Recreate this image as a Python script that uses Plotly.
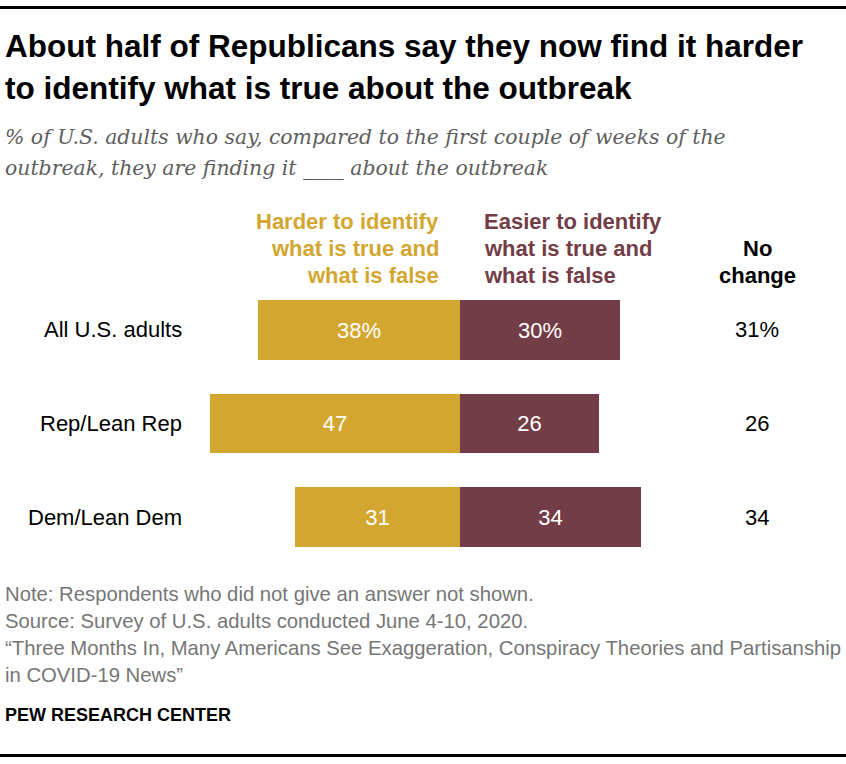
import plotly.graph_objects as go

# ---- data ----
categories = ["All U.S. adults", "Rep/Lean Rep", "Dem/Lean Dem"]
harder = [38, 47, 31]
easier = [30, 26, 34]
no_change = [31, 26, 34]
harder_labels = ["38%", "47", "31"]
easier_labels = ["30%", "26", "34"]
no_change_labels = ["31%", "26", "34"]

title_lines = ["About half of Republicans say they now find it harder",
               "to identify what is true about the outbreak"]
subtitle_lines = ["% of U.S. adults who say, compared to the first couple of weeks of the",
                  "outbreak, they are finding it ____ about the outbreak"]
harder_head = ["Harder to identify", "what is true and", "what is false"]
easier_head = ["Easier to identify", "what is true and", "what is false"]
nochange_head = ["No", "change"]
footer_lines = ["Note: Respondents who did not give an answer not shown.",
                "Source: Survey of U.S. adults conducted June 4-10, 2020.",
                "\u201cThree Months In, Many Americans See Exaggeration, Conspiracy Theories and Partisanship",
                "in COVID-19 News\u201d"]
brand = "PEW RESEARCH CENTER"

GOLD = "#D3A630"
MAROON = "#733D47"

W, H = 846, 764
L, R, T, B = 194, 66, 283, 200
PW, PH = W - L - R, H - T - B


def px(x):
    return (x - L) / PW


def py(y):
    return (H - B - y) / PH


SANS = "Liberation Sans, Arial, sans-serif"
SERIF = "DejaVu Serif, Georgia, serif"

fig = go.Figure()
fig.add_trace(go.Bar(
    y=categories, x=[-v for v in harder], orientation="h",
    marker=dict(color=GOLD, line=dict(width=0)),
    text=harder_labels, textposition="inside", insidetextanchor="middle",
    textangle=0, textfont=dict(color="white", size=22, family=SANS),
    width=0.64, hoverinfo="skip", name="Harder"))
fig.add_trace(go.Bar(
    y=categories, x=easier, orientation="h",
    marker=dict(color=MAROON, line=dict(width=0)),
    text=easier_labels, textposition="inside", insidetextanchor="middle",
    textangle=0, textfont=dict(color="white", size=22, family=SANS),
    width=0.64, hoverinfo="skip", name="Easier"))

ann = []
# category labels
for c in categories:
    ann.append(dict(x=px(184), xref="paper", y=c, yref="y", text=c, showarrow=False,
                    xanchor="right", yanchor="middle",
                    font=dict(size=22, color="#000", family=SANS)))
# no change values
for c, t in zip(categories, no_change_labels):
    ann.append(dict(x=px(757), xref="paper", y=c, yref="y", text=t, showarrow=False,
                    xanchor="center", yanchor="middle",
                    font=dict(size=22, color="#000", family=SANS)))
# headers
for i, t in enumerate(harder_head):
    ann.append(dict(x=px(441), xref="paper", y=py(221 + 27 * i), yref="paper", text="<b>%s</b>" % t,
                    showarrow=False, xanchor="right", yanchor="middle",
                    font=dict(size=22, color=GOLD, family=SANS)))
for i, t in enumerate(easier_head):
    ann.append(dict(x=px(482), xref="paper", y=py(221 + 27 * i), yref="paper", text="<b>%s</b>" % t,
                    showarrow=False, xanchor="left", yanchor="middle",
                    font=dict(size=22, color=MAROON, family=SANS)))
for i, t in enumerate(nochange_head):
    ann.append(dict(x=px(757), xref="paper", y=py(248 + 27 * i), yref="paper", text="<b>%s</b>" % t,
                    showarrow=False, xanchor="center", yanchor="middle",
                    font=dict(size=22, color="#000", family=SANS)))
# title
for i, t in enumerate(title_lines):
    ann.append(dict(x=px(3), xref="paper", y=py(46 + 41.5 * i), yref="paper", text="<b>%s</b>" % t,
                    showarrow=False, xanchor="left", yanchor="middle",
                    font=dict(size=31.5, color="#000", family=SANS)))
# subtitle
for i, t in enumerate(subtitle_lines):
    ann.append(dict(x=px(3), xref="paper", y=py(137 + 31 * i), yref="paper", text="<i>%s</i>" % t,
                    showarrow=False, xanchor="left", yanchor="middle",
                    font=dict(size=20.4, color="#5e5e5e", family=SERIF)))
# footer
for i, t in enumerate(footer_lines):
    ann.append(dict(x=px(3), xref="paper", y=py(594 + 27 * i), yref="paper", text=t,
                    showarrow=False, xanchor="left", yanchor="middle",
                    font=dict(size=20.3, color="#767676", family=SANS)))
ann.append(dict(x=px(3), xref="paper", y=py(715), yref="paper", text="<b>%s</b>" % brand,
                showarrow=False, xanchor="left", yanchor="middle",
                font=dict(size=18, color="#000", family=SANS)))

shapes = [
    dict(type="line", xref="paper", yref="paper", x0=px(0), x1=px(W), y0=py(7.5), y1=py(7.5),
         line=dict(color="#000", width=3)),
    dict(type="line", xref="paper", yref="paper", x0=px(0), x1=px(W), y0=py(755.5), y1=py(755.5),
         line=dict(color="#000", width=3)),
]

fig.update_layout(
    width=W, height=H, barmode="relative", bargap=0,
    margin=dict(l=L, r=R, t=T, b=B, pad=0),
    paper_bgcolor="white", plot_bgcolor="white",
    showlegend=False,
    xaxis=dict(range=[-50, 60], visible=False, fixedrange=True),
    yaxis=dict(categoryorder="array", categoryarray=categories, autorange="reversed",
               visible=False, fixedrange=True),
    annotations=ann, shapes=shapes,
)
fig.write_html("out.html", config={"displayModeBar": False},
               post_script="document.body.style.margin='0px';")
